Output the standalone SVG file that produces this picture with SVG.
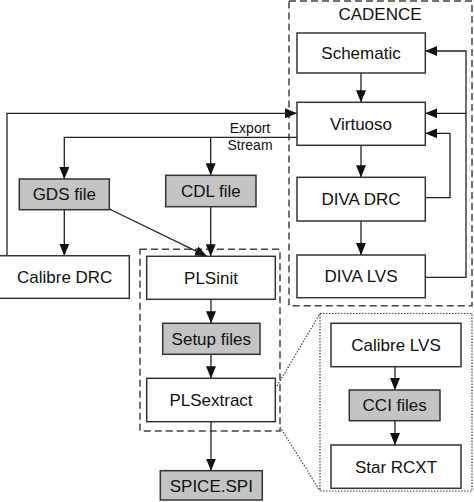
<svg xmlns="http://www.w3.org/2000/svg" width="474" height="502" viewBox="0 0 474 502">
<defs>
<marker id="arr" markerUnits="userSpaceOnUse" markerWidth="12" markerHeight="10" refX="12" refY="5" orient="auto">
<path d="M0,0 L12,5 L0,10 z" fill="#111"/>
</marker>
<style>
.box{fill:#fff;stroke:#333;stroke-width:1.5}
.file{fill:#c4c4c4;stroke:#333;stroke-width:1.5}
.t{font-family:"Liberation Sans",Arial,sans-serif;font-size:17px;fill:#111;text-anchor:middle}
.s{font-family:"Liberation Sans",Arial,sans-serif;font-size:14px;fill:#111;text-anchor:middle}
.c{fill:none;stroke:#222;stroke-width:1.3}
.dash{fill:none;stroke:#444;stroke-width:1.5;stroke-dasharray:7,4}
.dot{fill:none;stroke:#444;stroke-width:1.2;stroke-dasharray:1.5,1.5}
</style>
</defs>
<rect fill="#fff" width="474" height="502"/>
<g id="groups">
<rect class="dash" x="289" y="1" width="183" height="304.7" stroke-dasharray="6,3.5"/>
<text class="t" x="380" y="20">CADENCE</text>
<rect class="dash" x="140" y="249.3" width="140" height="181.7"/>
<rect class="dot" x="320" y="313.5" width="152" height="177.5"/>
<line class="dot" x1="277" y1="386" x2="320" y2="313.5"/>
<line class="dot" x1="280" y1="427" x2="320" y2="491"/>
</g>
<g id="connectors">
<line class="c" x1="361" y1="73" x2="361" y2="102.3" marker-end="url(#arr)"/>
<line class="c" x1="361" y1="145.3" x2="361" y2="177.3" marker-end="url(#arr)"/>
<line class="c" x1="361" y1="221" x2="361" y2="255" marker-end="url(#arr)"/>
<polyline class="c" points="425.3,197.7 450,197.7 450,133.3 425.3,133.3" marker-end="url(#arr)"/>
<polyline class="c" points="425.3,277.3 466,277.3 466,51 425.3,51" marker-end="url(#arr)"/>
<line class="c" x1="466" y1="113.3" x2="425.3" y2="113.3" marker-end="url(#arr)"/>
<polyline class="c" points="7,255.7 7,113.3 297,113.3" marker-end="url(#arr)"/>
<polyline class="c" points="297,137.3 64.3,137.3 64.3,179" marker-end="url(#arr)"/>
<line class="c" x1="210.7" y1="137.3" x2="210.7" y2="175.3" marker-end="url(#arr)"/>
<line class="c" x1="64.3" y1="209.7" x2="64.3" y2="255.7" marker-end="url(#arr)"/>
<line class="c" x1="109.3" y1="209" x2="207" y2="256.3" marker-end="url(#arr)"/>
<line class="c" x1="210.7" y1="206.7" x2="210.7" y2="256.3" marker-end="url(#arr)"/>
<line class="c" x1="211" y1="299.3" x2="211" y2="323.3" marker-end="url(#arr)"/>
<line class="c" x1="211" y1="354.3" x2="211" y2="378.3" marker-end="url(#arr)"/>
<line class="c" x1="211" y1="421.7" x2="211" y2="470.7" marker-end="url(#arr)"/>
<line class="c" x1="395" y1="366.7" x2="395" y2="390" marker-end="url(#arr)"/>
<line class="c" x1="395" y1="420.7" x2="395" y2="445" marker-end="url(#arr)"/>
<text class="s" x="250" y="132.7">Export</text>
<text class="s" x="250" y="150">Stream</text>
</g>
<g id="schematic"><rect class="box" x="297" y="33" width="128.3" height="40"/><text class="t" x="361" y="59">Schematic</text></g>
<g id="virtuoso"><rect class="box" x="297" y="102.3" width="128.3" height="43"/><text class="t" x="361" y="129.5">Virtuoso</text></g>
<g id="diva-drc"><rect class="box" x="297" y="177.3" width="128.3" height="43.7"/><text class="t" x="361" y="205">DIVA DRC</text></g>
<g id="diva-lvs"><rect class="box" x="297" y="255" width="128.3" height="42.7"/><text class="t" x="361" y="282">DIVA LVS</text></g>
<g id="gds-file"><rect class="file" x="19.3" y="179" width="90" height="30.7"/><text class="t" x="64.3" y="200.3">GDS file</text></g>
<g id="cdl-file"><rect class="file" x="165.7" y="175.3" width="90.3" height="31.4"/><text class="t" x="210.8" y="197">CDL file</text></g>
<g id="calibre-drc"><rect class="box" x="-1" y="255.7" width="130.3" height="42.6"/><text class="t" x="64.7" y="283">Calibre DRC</text></g>
<g id="plsinit"><rect class="box" x="146.7" y="256.3" width="128.6" height="43"/><text class="t" x="211" y="283.8">PLSinit</text></g>
<g id="setup-files"><rect class="file" x="162.7" y="323.3" width="97.3" height="31"/><text class="t" x="211.3" y="344.8">Setup files</text></g>
<g id="plsextract"><rect class="box" x="146.7" y="378.3" width="128.6" height="43.4"/><text class="t" x="211" y="406">PLSextract</text></g>
<g id="spice-spi"><rect class="file" x="160.3" y="470.7" width="102" height="29.3"/><text class="t" x="211.3" y="491.5">SPICE.SPI</text></g>
<g id="calibre-lvs"><rect class="box" x="331" y="323.3" width="130" height="43.4"/><text class="t" x="396" y="351">Calibre LVS</text></g>
<g id="cci-files"><rect class="file" x="349.3" y="390" width="90.7" height="30.7"/><text class="t" x="394.7" y="411">CCI files</text></g>
<g id="star-rcxt"><rect class="box" x="331" y="445" width="130" height="43.3"/><text class="t" x="396" y="472.7">Star RCXT</text></g>
</svg>
